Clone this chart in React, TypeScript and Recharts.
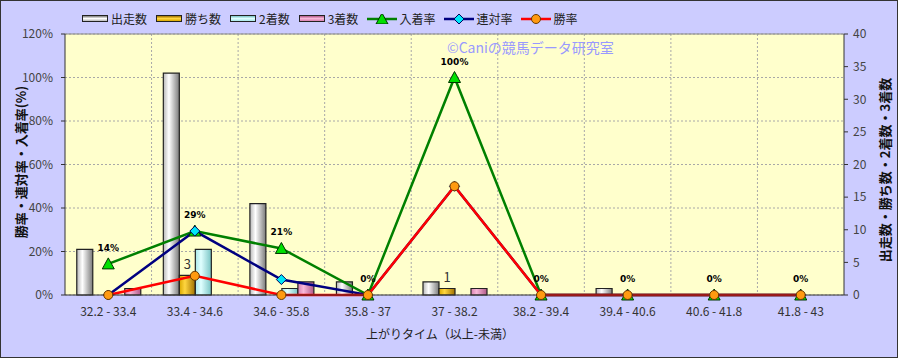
import React from 'react'
import { ComposedChart, Bar, Line, XAxis, YAxis, CartesianGrid, LabelList, ReferenceLine } from 'recharts'

// 上がりタイム帯
const RANGES = ['32.2 - 33.4', '33.4 - 34.6', '34.6 - 35.8', '35.8 - 37', '37 - 38.2', '38.2 - 39.4', '39.4 - 40.6', '40.6 - 41.8', '41.8 - 43']

// 件数（右軸）
const STARTS = [7, 34, 14, 2, 2, 0, 1, 0, 0]
const WINS = [0, 3, 0, 0, 1, 0, 0, 0, 0]
const SECONDS = [0, 7, 1, 0, 0, 0, 0, 0, 0]
const THIRDS = [1, 0, 2, 0, 1, 0, 0, 0, 0]

// 率（左軸, %）
const PLACE_RATE = [14.3, 29.4, 21.4, 0, 100, 0, 0, 0, 0]
const QUINELLA_RATE = [0, 29.4, 7.1, 0, 50, 0, 0, 0, 0]
const WIN_RATE = [0, 8.8, 0, 0, 50, 0, 0, 0, 0]

const LEFT_TICKS = [0, 20, 40, 60, 80, 100, 120]
const RIGHT_TICKS = [0, 5, 10, 15, 20, 25, 30, 35, 40]

const data = RANGES.map((range, i) => ({
  range,
  starts: STARTS[i],
  wins: WINS[i],
  seconds: SECONDS[i],
  thirds: THIRDS[i],
  place: PLACE_RATE[i],
  quinella: QUINELLA_RATE[i],
  winRate: WIN_RATE[i],
}))

const FONT = '"Noto Sans CJK JP", "Noto Sans", sans-serif'

const BAR_COLORS = {
  starts: ['#b8b8b8', '#ffffff', '#7a7a7a'],
  wins: ['#d9a800', '#ffd640', '#a07000'],
  seconds: ['#a8e8e8', '#e0ffff', '#78c4c4'],
  thirds: ['#d880b0', '#f8b8d8', '#b05888'],
}

const Triangle = (props: any) => {
  const { cx, cy } = props
  if (cx == null || cy == null) return null
  return <polygon points={`${cx},${cy - 6} ${cx - 6},${cy + 5} ${cx + 6},${cy + 5}`} fill="#00e000" stroke="#003300" strokeWidth={1} />
}

const Diamond = (props: any) => {
  const { cx, cy } = props
  if (cx == null || cy == null) return null
  return <polygon points={`${cx},${cy - 5} ${cx + 5},${cy} ${cx},${cy + 5} ${cx - 5},${cy}`} fill="#00e8f8" stroke="#000060" strokeWidth={1} />
}

const Circle = (props: any) => {
  const { cx, cy } = props
  if (cx == null || cy == null) return null
  return <circle cx={cx} cy={cy} r={4.5} fill="#ff9a10" stroke="#6a3a00" strokeWidth={1} />
}

const rateLabel = (props: any) => {
  const { x, y, value } = props
  return (
    <text x={x} y={y - 13} textAnchor="middle" fontSize={9} fontWeight="bold" fill="#000" fontFamily='"DejaVu Sans", sans-serif'>
      {Math.round(value)}%
    </text>
  )
}

const winLabel = (props: any) => {
  const { x, y, width, value } = props
  if (!value) return null
  return (
    <text x={x + width / 2} y={y - 6} textAnchor="middle" fontSize={13} fill="#333" fontFamily={FONT}>
      {value}
    </text>
  )
}

const LEGEND = [
  { name: '出走数', kind: 'bar', key: 'starts' },
  { name: '勝ち数', kind: 'bar', key: 'wins' },
  { name: '2着数', kind: 'bar', key: 'seconds' },
  { name: '3着数', kind: 'bar', key: 'thirds' },
  { name: '入着率', kind: 'line', color: '#008000', marker: 'tri' },
  { name: '連対率', kind: 'line', color: '#000080', marker: 'dia' },
  { name: '勝率', kind: 'line', color: '#ff0000', marker: 'circ' },
]

function LegendSwatch({ item }: { item: any }) {
  if (item.kind === 'bar') {
    const c = (BAR_COLORS as any)[item.key]
    return (
      <div style={{
        width: 24, height: 5, border: '1px solid #222', marginRight: 3,
        background: `linear-gradient(to bottom, ${c[2]}, ${c[1]} 50%, ${c[0]})`,
      }} />
    )
  }
  return (
    <svg width={30} height={10} style={{ marginRight: 2 }}>
      <line x1={0} y1={5} x2={30} y2={5} stroke={item.color} strokeWidth={2.5} />
      {item.marker === 'tri' && <Triangle cx={15} cy={5} />}
      {item.marker === 'dia' && <Diamond cx={15} cy={5} />}
      {item.marker === 'circ' && <Circle cx={15} cy={5} />}
    </svg>
  )
}

export default function App() {
  const W = 898
  const H = 358
  return (
    <div style={{ position: 'absolute', left: 0, top: 0, width: W, height: H, background: '#ccccff', fontFamily: FONT }}>
      <ComposedChart
        width={W}
        height={H}
        data={data}
        margin={{ top: 34, right: 0, bottom: 33, left: 0 }}
        barCategoryGap="13.6%"
        barGap={0}
      >
        <defs>
          {Object.entries(BAR_COLORS).map(([k, c]) => (
            <linearGradient key={k} id={`grad-${k}`} x1="0" y1="0" x2="1" y2="0">
              <stop offset="0%" stopColor={c[0]} />
              <stop offset="35%" stopColor={c[1]} />
              <stop offset="100%" stopColor={c[2]} />
            </linearGradient>
          ))}
        </defs>
        <CartesianGrid
          yAxisId="left"
          fill="#ffffcc"
          stroke="#a8a8a8"
          strokeDasharray="2 2"
          verticalCoordinatesGenerator={({ offset }: any) =>
            RANGES.slice(1).map((_, i) => offset.left + ((i + 1) * offset.width) / RANGES.length)
          }
        />
        <XAxis
          dataKey="range"
          height={30}
          tickLine={false}
          axisLine={{ stroke: '#333' }}
          tickMargin={6}
          tick={{ fontSize: 12, fill: '#333', fontFamily: FONT }}
          interval={0}
        />
        <YAxis
          yAxisId="left"
          orientation="left"
          width={65}
          domain={[0, 120]}
          ticks={LEFT_TICKS}
          tickFormatter={(v: number) => `${v}%`}
          axisLine={{ stroke: '#333' }}
          tickLine={{ stroke: '#333' }}
          tickSize={4}
          tickMargin={8}
          tick={{ fontSize: 12, fill: '#444', fontFamily: FONT }}
        />
        <YAxis
          yAxisId="right"
          orientation="right"
          width={54}
          domain={[0, 40]}
          ticks={RIGHT_TICKS}
          axisLine={{ stroke: '#333' }}
          tickLine={{ stroke: '#333' }}
          tickSize={4}
          tickMargin={5}
          tick={{ fontSize: 12, fill: '#444', fontFamily: FONT }}
        />
        <ReferenceLine yAxisId="left" y={120} stroke="#888" />

        <Bar yAxisId="right" dataKey="starts" name="出走数" fill="url(#grad-starts)" stroke="#222" strokeWidth={1.2} isAnimationActive={false} />
        <Bar yAxisId="right" dataKey="wins" name="勝ち数" fill="url(#grad-wins)" stroke="#222" strokeWidth={1.2} isAnimationActive={false}>
          <LabelList dataKey="wins" content={winLabel} />
        </Bar>
        <Bar yAxisId="right" dataKey="seconds" name="2着数" fill="url(#grad-seconds)" stroke="#222" strokeWidth={1.2} isAnimationActive={false} />
        <Bar yAxisId="right" dataKey="thirds" name="3着数" fill="url(#grad-thirds)" stroke="#222" strokeWidth={1.2} isAnimationActive={false} />

        <Line yAxisId="left" type="linear" dataKey="place" name="入着率" stroke="#008000" strokeWidth={2.5} dot={Triangle} activeDot={false} isAnimationActive={false}>
          <LabelList dataKey="place" content={rateLabel} />
        </Line>
        <Line yAxisId="left" type="linear" dataKey="quinella" name="連対率" stroke="#000080" strokeWidth={2.5} dot={Diamond} activeDot={false} isAnimationActive={false} />
        <Line yAxisId="left" type="linear" dataKey="winRate" name="勝率" stroke="#ff0000" strokeWidth={2.5} dot={Circle} activeDot={false} isAnimationActive={false} />
      </ComposedChart>

      {/* 凡例 */}
      <div style={{ position: 'absolute', left: 82, top: 10, display: 'flex', alignItems: 'center', fontSize: 12, color: '#222' }}>
        {LEGEND.map(item => (
          <div key={item.name} style={{ display: 'flex', alignItems: 'center', marginRight: 9 }}>
            <LegendSwatch item={item} />
            <span>{item.name}</span>
          </div>
        ))}
      </div>

      {/* 透かし */}
      <div style={{ position: 'absolute', left: 447, top: 38, fontSize: 14, lineHeight: '18px', color: '#9999ff' }}>©Caniの競馬データ研究室</div>

      {/* 軸タイトル */}
      <div style={{ position: 'absolute', left: 20, top: 162, transform: 'translate(-50%, -50%) rotate(-90deg)', whiteSpace: 'nowrap', fontSize: 13, fontWeight: 'bold', color: '#111' }}>
        勝率・連対率・入着率(%)
      </div>
      <div style={{ position: 'absolute', left: 884, top: 170, transform: 'translate(-50%, -50%) rotate(-90deg)', whiteSpace: 'nowrap', fontSize: 13, fontWeight: 'bold', color: '#111' }}>
        出走数・勝ち数・2着数・3着数
      </div>
      <div style={{ position: 'absolute', left: 440, top: 333, transform: 'translate(-50%, -50%)', whiteSpace: 'nowrap', fontSize: 12, color: '#222' }}>
        上がりタイム（以上-未満）
      </div>

      <div style={{ position: 'absolute', inset: 0, border: '1px solid #333', pointerEvents: 'none' }} />
    </div>
  )
}
